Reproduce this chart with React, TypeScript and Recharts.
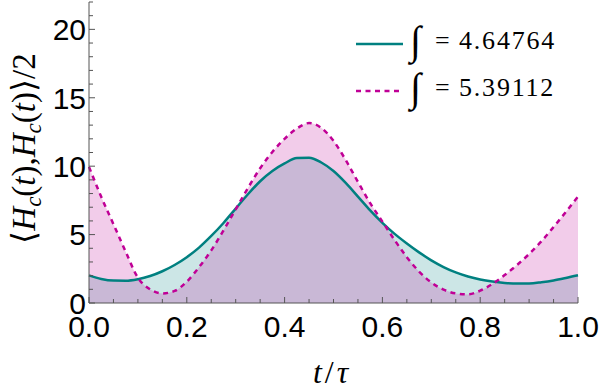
import React from 'react';
import { ComposedChart, Area, Line, XAxis, YAxis, Legend } from 'recharts';

// time samples t/τ
const tValues = [
  0, 0.025, 0.05, 0.075, 0.1, 0.125, 0.15, 0.175, 0.2, 0.225,
  0.25, 0.275, 0.3, 0.325, 0.35, 0.375, 0.4, 0.425, 0.45, 0.475,
  0.5, 0.525, 0.55, 0.575, 0.6, 0.625, 0.65, 0.675, 0.7, 0.725,
  0.75, 0.775, 0.8, 0.825, 0.85, 0.875, 0.9, 0.925, 0.95, 0.975, 1,
];

// solid teal series (∫ = 4.64764)
const tealValues = [
  2.02, 1.76, 1.64, 1.63, 1.74, 1.97, 2.32, 2.78, 3.35, 4.05,
  4.9, 5.85, 6.9, 7.95, 8.9, 9.65, 10.2, 10.6, 10.62, 10.27,
  9.65, 8.78, 7.78, 6.77, 5.86, 5.05, 4.35, 3.7, 3.12, 2.63,
  2.24, 1.94, 1.72, 1.57, 1.47, 1.42, 1.43, 1.52, 1.65, 1.83, 2.03,
];

// dashed magenta series (∫ = 5.39112)
const magentaValues = [
  9.95, 7.76, 5.76, 3.75, 1.85, 1.0, 0.7, 0.88, 1.56, 2.62,
  3.85, 5.3, 6.85, 8.4, 9.85, 11.04, 12.0, 12.75, 13.15, 12.8,
  11.85, 10.45, 8.85, 7.3, 5.95, 4.6, 3.35, 2.3, 1.5, 0.98,
  0.7, 0.63, 0.9, 1.39, 2.04, 2.77, 3.58, 4.5, 5.55, 6.65, 7.78,
];

const seriesNames = ['∫ = 4.64764', '∫ = 5.39112'];

const xTicks = [
  0, 0.05, 0.1, 0.15, 0.2, 0.25, 0.3, 0.35, 0.4, 0.45, 0.5,
  0.55, 0.6, 0.65, 0.7, 0.75, 0.8, 0.85, 0.9, 0.95, 1,
];
const yTicks = [0, 1, 2, 3, 4, 5, 6, 7, 8, 9, 10, 11, 12, 13, 14, 15, 16, 17, 18, 19, 20, 21, 22];

const data = tValues.map((t, i) => ({ t, teal: tealValues[i], magenta: magentaValues[i] }));

const TEAL = '#008080';
const MAGENTA = '#c00096';
const FRAME = '#555555';
const SANS = 'Liberation Sans';
const SERIF = 'Liberation Serif';

const isMajor = (v: number, step: number) => Math.abs(v / step - Math.round(v / step)) < 1e-6;

// text element whose font family is forced (beats any outside stylesheet rule)
const T = ({ family, children, ...rest }: any) => {
  const setFont = (el: any) => {
    if (el) el.style.setProperty('font-family', `"${family}"`, 'important');
  };
  return (
    <text ref={setFont} fontFamily={family} style={{ fontFamily: `"${family}"` }} {...rest}>
      {children}
    </text>
  );
};

const BottomTick = (props: any) => {
  const { x, y, payload } = props;
  const v = payload.value;
  const major = isMajor(v, 0.2);
  return (
    <g>
      <line x1={x} x2={x} y1={y} y2={y - (major ? 6 : 4)} stroke={FRAME} strokeWidth={1} />
      {major && (
        <T family={SANS} x={x} y={y + 34} textAnchor="middle" fontSize={30} fill="#000">
          {v.toFixed(1)}
        </T>
      )}
    </g>
  );
};

const TopTick = (props: any) => {
  const { x, y, payload } = props;
  const major = isMajor(payload.value, 0.2);
  return <line x1={x} x2={x} y1={y} y2={y + (major ? 6 : 4)} stroke={FRAME} strokeWidth={1} />;
};

const LeftTick = (props: any) => {
  const { x, y, payload } = props;
  const v = payload.value;
  const major = isMajor(v, 5);
  return (
    <g>
      <line x1={x} x2={x + (major ? 6 : 4)} y1={y} y2={y} stroke={FRAME} strokeWidth={1} />
      {major && (
        <T family={SANS} x={x - 3} y={y} dy="0.36em" textAnchor="end" fontSize={30} fill="#000">
          {v}
        </T>
      )}
    </g>
  );
};

const RightTick = (props: any) => {
  const { x, y, payload } = props;
  const major = isMajor(payload.value, 5);
  return <line x1={x} x2={x - (major ? 6 : 4)} y1={y} y2={y} stroke={FRAME} strokeWidth={1} />;
};

const YLabel = (props: any) => {
  const vb = props.viewBox || { x: 0, y: 0, width: 0, height: 0 };
  const cx = vb.x + 35;
  const cy = vb.y + vb.height / 2 - 4;
  return (
    <T family={SERIF} transform={`translate(${cx},${cy}) rotate(-90)`} textAnchor="middle" fontSize={33} fill="#000">
      <tspan>⟨</tspan>
      <tspan fontStyle="italic">H</tspan>
      <tspan fontStyle="italic" fontSize={23} dy={6}>c</tspan>
      <tspan dy={-6}>(</tspan>
      <tspan fontStyle="italic">t</tspan>
      <tspan>),</tspan>
      <tspan fontStyle="italic">H</tspan>
      <tspan fontStyle="italic" fontSize={23} dy={6}>c</tspan>
      <tspan dy={-6}>(</tspan>
      <tspan fontStyle="italic">t</tspan>
      <tspan>)⟩/2</tspan>
    </T>
  );
};

const XLabel = (props: any) => {
  const vb = props.viewBox || { x: 0, y: 0, width: 0, height: 0 };
  const cx = vb.x + vb.width / 2 - 3;
  const y = vb.y + 80;
  return (
    <T family={SERIF} x={cx} y={y} textAnchor="middle" fontSize={32} fill="#000">
      <tspan fontStyle="italic">t</tspan>
      <tspan dx={3}>/</tspan>
      <tspan dx={3} fontStyle="italic">τ</tspan>
    </T>
  );
};

const LegendBox = (props: any) => {
  const payload = (props.payload || []).filter((p: any) => p.type !== 'none');
  return (
    <svg width={240} height={110} style={{ display: 'block', overflow: 'visible' }}>
      {payload.map((p: any, i: number) => {
        const cy = 24 + i * 47;
        const dash = p.payload && p.payload.strokeDasharray;
        const parts = String(p.value).split('=');
        return (
          <g key={i}>
            <line x1={6} x2={53} y1={cy} y2={cy} stroke={p.color} strokeWidth={2.5} strokeDasharray={dash} />
            <T family={SERIF} x={60} y={cy + 10} fontSize={40} fill="#000">{parts[0].trim()}</T>
            <T family={SERIF} x={85} y={cy + 5} fontSize={26} fill="#000">=</T>
            <T family={SERIF} x={109} y={cy + 5} fontSize={26} letterSpacing={1.8} fill="#000">{parts[1].trim()}</T>
          </g>
        );
      })}
    </svg>
  );
};

export default function App() {
  return (
    <div style={{ position: 'absolute', left: 0, top: 0, width: 600, height: 391, background: '#fff' }}>
      <ComposedChart width={600} height={391} data={data} margin={{ top: 2, right: 22, bottom: 0, left: 0 }}>
        <XAxis
          dataKey="t"
          type="number"
          domain={[0, 1]}
          ticks={xTicks}
          interval={0}
          tickSize={0}
          tickMargin={0}
          height={88}
          axisLine={{ stroke: FRAME, strokeWidth: 1 }}
          tickLine={false}
          tick={BottomTick}
          label={<XLabel />}
        />
        <XAxis
          xAxisId="top"
          orientation="top"
          dataKey="t"
          type="number"
          domain={[0, 1]}
          ticks={xTicks}
          interval={0}
          tickSize={0}
          tickMargin={0}
          height={0}
          axisLine={{ stroke: FRAME, strokeWidth: 1 }}
          tickLine={false}
          tick={TopTick}
        />
        <YAxis
          type="number"
          domain={[0, 22]}
          ticks={yTicks}
          interval={0}
          tickSize={0}
          tickMargin={0}
          width={89}
          axisLine={{ stroke: FRAME, strokeWidth: 1 }}
          tickLine={false}
          tick={LeftTick}
          label={<YLabel />}
        />
        <YAxis
          yAxisId="right"
          orientation="right"
          type="number"
          domain={[0, 22]}
          ticks={yTicks}
          interval={0}
          tickSize={0}
          tickMargin={0}
          width={0}
          axisLine={{ stroke: FRAME, strokeWidth: 1 }}
          tickLine={false}
          tick={RightTick}
        />
        <Area
          type="monotone"
          dataKey="teal"
          stroke="none"
          fill={TEAL}
          fillOpacity={0.2}
          isAnimationActive={false}
          legendType="none"
          dot={false}
          activeDot={false}
        />
        <Area
          type="monotone"
          dataKey="magenta"
          stroke="none"
          fill={MAGENTA}
          fillOpacity={0.2}
          isAnimationActive={false}
          legendType="none"
          dot={false}
          activeDot={false}
        />
        <Line
          type="monotone"
          dataKey="teal"
          name={seriesNames[0]}
          stroke={TEAL}
          strokeWidth={2.5}
          dot={false}
          activeDot={false}
          isAnimationActive={false}
        />
        <Line
          type="monotone"
          dataKey="magenta"
          name={seriesNames[1]}
          stroke={MAGENTA}
          strokeWidth={2.5}
          strokeDasharray="5 4.5"
          dot={false}
          activeDot={false}
          isAnimationActive={false}
        />
        <Legend
          layout="horizontal"
          verticalAlign="middle"
          align="center"
          wrapperStyle={{ position: 'absolute', left: 350, top: 20, width: 240, height: 110 }}
          content={<LegendBox />}
        />
      </ComposedChart>
    </div>
  );
}
